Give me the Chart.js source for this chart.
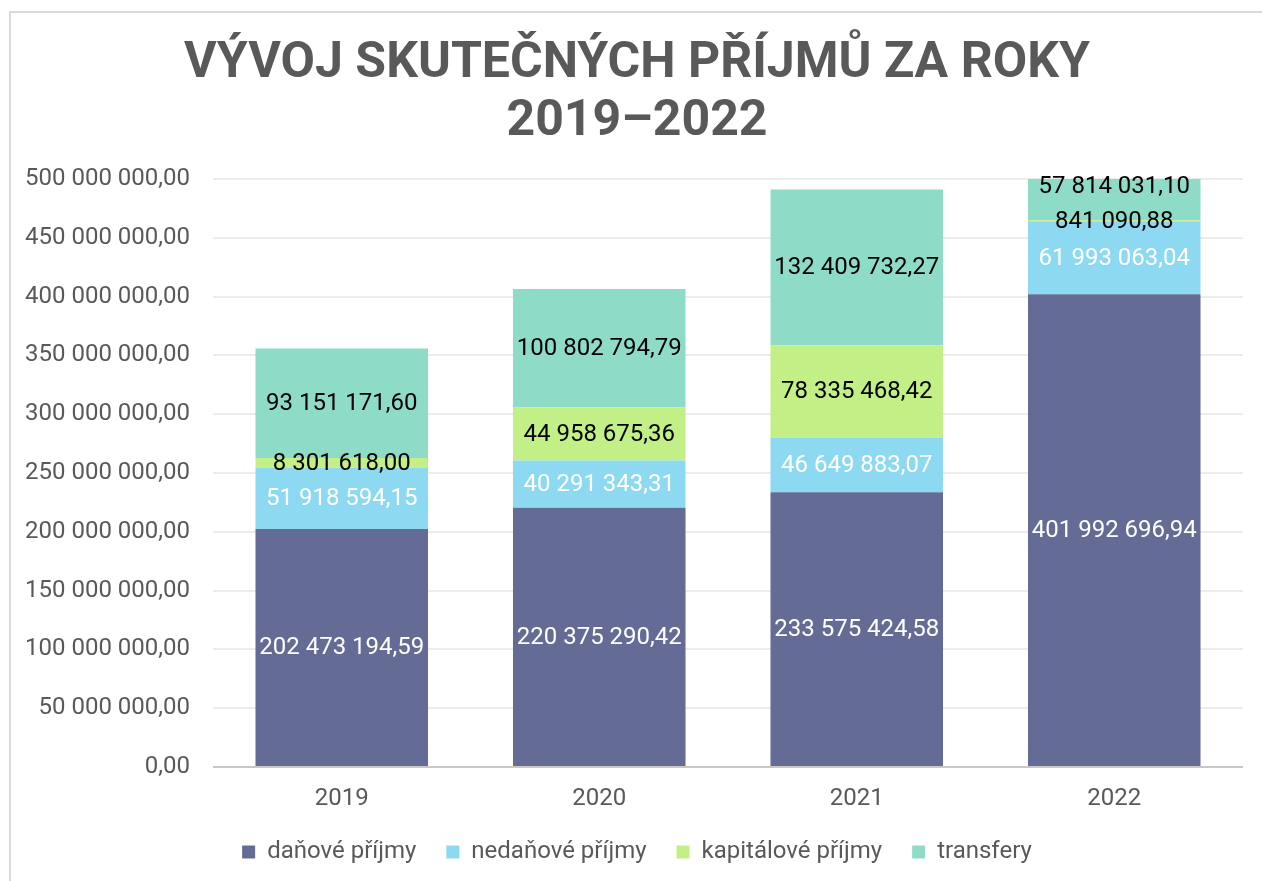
<!DOCTYPE html>
<html lang="cs">

<head>
    <meta charset="UTF-8">
    <title>Vývoj skutečných příjmů</title>
    <script src="https://cdn.jsdelivr.net/npm/chart.js"></script>

    <style>
        html, body {
            margin: 0;
            padding: 0;
            background: #ffffff;
            overflow: hidden;
        }

        .ramecek {
            position: absolute;
            left: 9px;
            top: 11px;
            width: 1400px;
            height: 1000px;
            border: 2px solid #d9d9d9;
            box-sizing: border-box;
        }

        .div-grafico {
            position: absolute;
            left: 0;
            top: 0;
            width: 1262px;
            height: 881px;
        }
    </style>
</head>

<body>
    <div class="ramecek"></div>
    <div class="div-grafico">
        <canvas id="prijmy"></canvas>
    </div>

<script>
    // data z grafu
    var roky = ['2019', '2020', '2021', '2022'];
    var danovePrijmy = [202473194.59, 220375290.42, 233575424.58, 401992696.94];
    var nedanovePrijmy = [51918594.15, 40291343.31, 46649883.07, 61993063.04];
    var kapitalovePrijmy = [8301618.00, 44958675.36, 78335468.42, 841090.88];
    var transfery = [93151171.60, 100802794.79, 132409732.27, 57814031.10];

    var osaMax = 500000000;
    var osaKrok = 50000000;

    function formatCislo(v) {
        var casti = Number(v).toFixed(2).split('.');
        casti[0] = casti[0].replace(/\B(?=(\d{3})+(?!\d))/g, ' ');
        return casti[0] + ',' + casti[1];
    }

    // popisky hodnot do stredu segmentu
    var popisky = {
        id: 'popisky',
        afterDatasetsDraw(chart) {
            var ctx = chart.ctx;
            ctx.save();
            ctx.font = '24px Roboto';
            ctx.textAlign = 'center';
            ctx.textBaseline = 'middle';
            chart.data.datasets.forEach((ds, i) => {
                var meta = chart.getDatasetMeta(i);
                if (meta.hidden) return;
                meta.data.forEach((bar, j) => {
                    var p = bar.getProps(['x', 'y', 'base'], true);
                    ctx.fillStyle = ds.popiskaBarva;
                    ctx.fillText(formatCislo(ds.data[j]), p.x, (p.y + p.base) / 2 + 1);
                });
            });
            ctx.restore();
        }
    };

    var grafPrijmu = new Chart(document.getElementById('prijmy').getContext('2d'), {
        type: 'bar',
        data: {
            labels: roky,
            datasets: [{
                label: 'daňové příjmy',
                data: danovePrijmy,
                backgroundColor: '#646c96',
                popiskaBarva: '#ffffff'
            }, {
                label: 'nedaňové příjmy',
                data: nedanovePrijmy,
                backgroundColor: '#8ed9f2',
                popiskaBarva: '#ffffff'
            }, {
                label: 'kapitálové příjmy',
                data: kapitalovePrijmy,
                backgroundColor: '#c3ef87',
                popiskaBarva: '#000000'
            }, {
                label: 'transfery',
                data: transfery,
                backgroundColor: '#8edcc7',
                popiskaBarva: '#000000'
            }]
        },
        options: {
            responsive: true,
            maintainAspectRatio: false,
            animation: false,
            datasets: {
                bar: {
                    categoryPercentage: 1,
                    barPercentage: 0.67
                }
            },
            layout: {
                padding: { left: 12, right: 0, top: 0, bottom: 7 }
            },
            plugins: {
                title: {
                    display: true,
                    text: ['VÝVOJ SKUTEČNÝCH PŘÍJMŮ ZA ROKY', '2019–2022'],
                    color: '#595959',
                    font: {
                        size: 50,
                        weight: 'bold',
                        family: 'Roboto',
                        lineHeight: 1.16
                    },
                    padding: { top: 35, bottom: 28 }
                },
                legend: {
                    position: 'bottom',
                    labels: {
                        color: '#595959',
                        font: { size: 24, family: 'Roboto' },
                        boxWidth: 13,
                        boxHeight: 13,
                        padding: 30
                    }
                },
                tooltip: { enabled: false }
            },
            scales: {
                x: {
                    stacked: true,
                    grid: { display: false },
                    border: { display: false },
                    afterFit: (osa) => { osa.height = 43; },
                    ticks: {
                        color: '#595959',
                        font: { size: 24, family: 'Roboto' },
                        padding: 10
                    }
                },
                y: {
                    stacked: true,
                    min: 0,
                    max: osaMax,
                    border: { display: false },
                    afterFit: (osa) => { osa.width = 201; },
                    grid: {
                        drawTicks: false,
                        lineWidth: 2,
                        color: (c) => c.tick && c.tick.value === 0 ? '#c8c8c8' : '#ececec'
                    },
                    ticks: {
                        stepSize: osaKrok,
                        color: '#595959',
                        font: { size: 24, family: 'Roboto' },
                        padding: 23,
                        callback: (v) => formatCislo(v)
                    }
                },
                // prazdna osa vpravo jen kvuli okraji
                y2: {
                    position: 'right',
                    grid: { display: false },
                    border: { display: false },
                    ticks: { display: false },
                    afterFit: (osa) => { osa.width = 19; }
                }
            }
        },
        plugins: [popisky]
    });
</script>
</body>

</html>
